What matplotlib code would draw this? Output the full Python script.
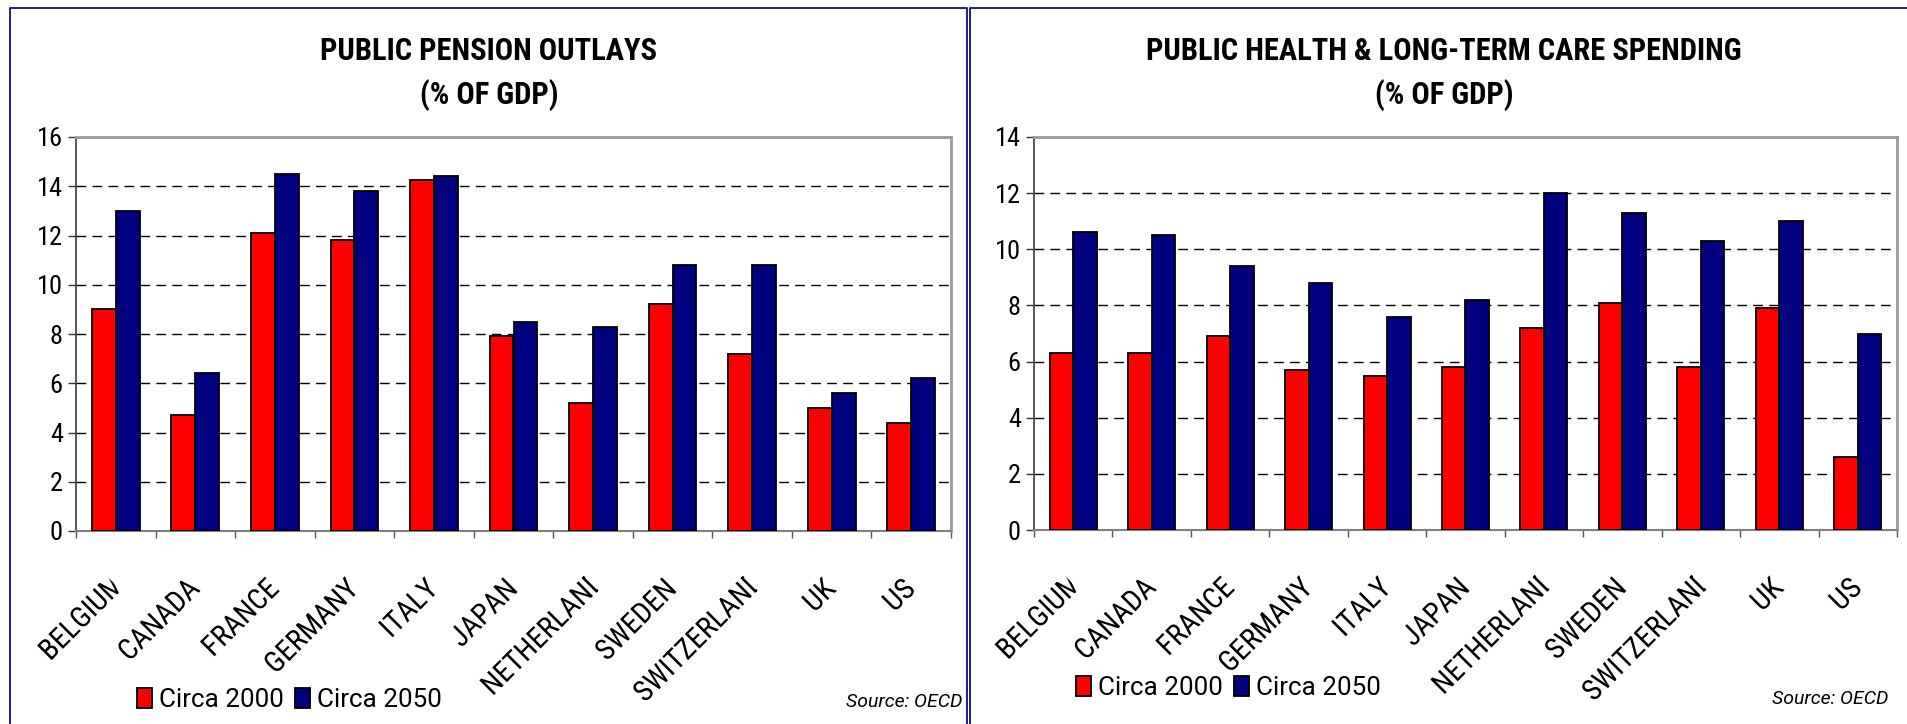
import numpy as np
import matplotlib
matplotlib.use("Agg")
import matplotlib.pyplot as plt
import matplotlib.patheffects as pe
from matplotlib.patches import Polygon
from matplotlib.transforms import IdentityTransform
from matplotlib.lines import Line2D

# ---- data -------------------------------------------------------------
countries = ["BELGIUM", "CANADA", "FRANCE", "GERMANY", "ITALY", "JAPAN",
             "NETHERLANDS", "SWEDEN", "SWITZERLAND", "UK", "US"]
series_names = ["Circa 2000", "Circa 2050"]

pension_2000 = [9.0, 4.7, 12.1, 11.8, 14.25, 7.9, 5.2, 9.2, 7.2, 5.0, 4.4]
pension_2050 = [13.0, 6.4, 14.5, 13.8, 14.4, 8.5, 8.3, 10.8, 10.8, 5.6, 6.2]

health_2000 = [6.3, 6.3, 6.9, 5.7, 5.5, 5.8, 7.2, 8.1, 5.8, 7.9, 2.6]
health_2050 = [10.6, 10.5, 9.4, 8.8, 7.6, 8.2, 12.0, 11.3, 10.3, 11.0, 7.0]

pension_yticks = [0, 2, 4, 6, 8, 10, 12, 14, 16]
health_yticks = [0, 2, 4, 6, 8, 10, 12, 14]

pension_title = ["PUBLIC PENSION OUTLAYS", "(% OF GDP)"]
health_title = ["PUBLIC HEALTH & LONG-TERM CARE SPENDING", "(% OF GDP)"]
source_text = "Source: OECD"

# ---- style ------------------------------------------------------------
COND = ["Roboto Condensed", "DejaVu Sans"]
REG = ["Roboto", "DejaVu Sans"]
plt.rcParams["font.family"] = COND
RED = "#ff0000"
NAVY = "#000080"
BORDER = "#1c1c96"
XLABEL_SIZE = 21

W, H = 1908, 724
fig = plt.figure(figsize=(W / 100, H / 100), dpi=100, facecolor="white")
renderer = fig.canvas.get_renderer()


def fx(px):
    return px / W


def fy(py):
    return 1 - py / H


# long category names are cut inside a letter: (visible prefix, share of next letter shown)
label_cut = {"BELGIUM": ("BELGIU", 0.7), "NETHERLANDS": ("NETHERLAN", 0.35),
             "SWITZERLAND": ("SWITZERLAN", 0.35)}


def text_width(s, prop):
    return renderer.get_text_width_height_descent(s, prop, ismath=False)[0]


def draw_panel(ax, v2000, v2050, yticks, title, title_cx, legend_xy, source_xy):
    x = np.arange(len(countries))
    w = 0.30
    b1 = ax.bar(x - w / 2, v2000, w, color=RED, edgecolor="black", linewidth=1.3, zorder=3)
    b2 = ax.bar(x + w / 2, v2050, w, color=NAVY, edgecolor="black", linewidth=1.3, zorder=3)

    ax.set_xlim(-0.5, len(countries) - 0.5)
    ax.set_ylim(yticks[0], yticks[-1])
    ax.set_yticks(yticks)
    ax.set_yticklabels([str(t) for t in yticks])
    ax.tick_params(axis="y", direction="out", length=5.5, width=1, color="#333333",
                   labelsize=19, pad=4)
    ax.set_xticks(np.arange(len(countries) + 1) - 0.5)
    ax.set_xticklabels([])
    ax.tick_params(axis="x", direction="out", length=5, width=1, color="#555555")

    for t in yticks[1:-1]:
        ax.axhline(t, color="black", lw=1, ls=(0, (7, 4.5)), zorder=1)

    ax.spines["left"].set_color("#3a3a3a")
    ax.spines["left"].set_linewidth(1.2)
    ax.spines["bottom"].set_color("#808080")
    ax.spines["bottom"].set_linewidth(1.5)
    for s in ("top", "right"):
        ax.spines[s].set_color("#9a9a9a")
        ax.spines[s].set_linewidth(2)

    # rotated category labels: baseline end just right of the category centre
    y_base = ax.transAxes.transform((0, 0))[1] - 59.5
    d = np.array([1.0, 1.0]) / np.sqrt(2)
    n = np.array([-1.0, 1.0]) / np.sqrt(2)
    for i, name in enumerate(countries):
        t = fig.text(0, 0, name, ha="right", va="baseline", rotation_mode="anchor",
                     fontsize=XLABEL_SIZE, rotation=45)
        prop = t.get_fontproperties()
        over = 0.0
        if name in label_cut:
            prefix, frac = label_cut[name]
            shown = text_width(prefix, prop) + frac * text_width(name[len(prefix)], prop)
            over = text_width(name, prop) - shown
        xe = ax.transData.transform((i, 0))[0]
        B = np.array([xe + 5.5, y_base])
        A = B + over * d
        t.set_position((A[0] / W, A[1] / H))
        clip = Polygon([B + 400 * n, B - 400 * n, B - 400 * n - 600 * d, B + 400 * n - 600 * d],
                       closed=True, transform=IdentityTransform())
        t.set_clip_path(clip)
        t.set_clip_on(True)
        t.set_path_effects([pe.Normal()])

    fig.text(fx(title_cx), fy(51), title[0], ha="center", va="center",
             fontsize=22, weight="bold")
    fig.text(fx(title_cx), fy(95), title[1], ha="center", va="center",
             fontsize=22, weight="bold")

    fig.legend(handles=[b1, b2], labels=series_names, loc="center left",
               bbox_to_anchor=(fx(legend_xy[0]), fy(legend_xy[1])), ncol=2,
               frameon=False, prop={"family": REG, "size": 18.7},
               handlelength=0.58, handleheight=0.8, handletextpad=0.25,
               columnspacing=0.45, borderpad=0, borderaxespad=0)

    fig.text(fx(source_xy[0]), fy(source_xy[1]), source_text, ha="right", va="center",
             style="italic", fontsize=14, family=REG)


axL = fig.add_axes([fx(76), fy(531), (951 - 76) / W, (531 - 137) / H])
axR = fig.add_axes([fx(1034), fy(530), (1897 - 1034) / W, (530 - 137) / H])

draw_panel(axL, pension_2000, pension_2050, pension_yticks, pension_title, 489,
           (137, 700), (962, 702))
draw_panel(axR, health_2000, health_2050, health_yticks, health_title, 1444,
           (1076, 688), (1888, 699))

# panel frames
fig.add_artist(Line2D([fx(10), fx(10), fx(967), fx(967)], [0, fy(8), fy(8), 0],
                      color=BORDER, lw=1.4, transform=fig.transFigure))
fig.add_artist(Line2D([fx(970), fx(970), 1.0], [0, fy(8), fy(8)],
                      color=BORDER, lw=1.4, transform=fig.transFigure))

fig.savefig("out.png", dpi=100, facecolor="white")
